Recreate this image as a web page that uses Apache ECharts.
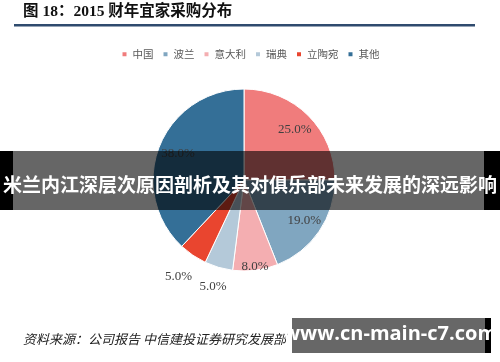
<!DOCTYPE html>
<html><head><meta charset="utf-8">
<script src="https://cdn.jsdelivr.net/npm/echarts@6/dist/echarts.min.js"></script>
<style>html,body{margin:0;padding:0;background:#fff}#c{width:500px;height:362px}</style>
</head><body><div id="c"></div>
<script>
const categories = ['中国', '波兰', '意大利', '瑞典', '立陶宛', '其他'];
const values = [25, 19, 8, 5, 5, 38];
const titleText = '图 18：2015 财年宜家采购分布';
const sourceText = '资料来源：公司报告 中信建投证券研究发展部';
const bannerText = '米兰内江深层次原因剖析及其对俱乐部未来发展的深远影响';
const watermarkText = 'www.cn-main-c7.com';

const colors = ['#f07c7c', '#80a6c0', '#f4aeb1', '#b4c9d9', '#e9452f', '#346f97'];
const labelRadiusFactor = [0.74, 0.75, 0.9, 1.14, 1.2, 0.73];
const CX = 244, CY = 180, R = 91;

const chart = echarts.init(document.getElementById('c'), null, {renderer: 'canvas'});
chart.setOption({
  animation: false,
  color: colors,
  legend: {
    top: 44, left: 'center',
    itemWidth: 6, itemHeight: 6, itemGap: 8,
    icon: 'rect',
    textStyle: {fontSize: 10.5, color: '#595959', fontFamily: 'Noto Sans CJK SC'},
    data: categories
  },
  series: [{
    type: 'pie',
    center: [CX, CY],
    radius: R,
    startAngle: 90,
    clockwise: true,
    itemStyle: {borderColor: '#fff', borderWidth: 1},
    label: {
      position: 'inside',
      formatter: p => p.value.toFixed(1) + '%',
      fontFamily: 'Liberation Serif',
      fontSize: 13,
      color: '#404040'
    },
    labelLine: {show: false},
    labelLayout: function (params) {
      const r = params.labelRect;
      const lx = r.x + r.width / 2, ly = r.y + r.height / 2;
      const k = labelRadiusFactor[params.dataIndex] / 0.5;
      return {x: CX + (lx - CX) * k, y: CY + (ly - CY) * k, align: 'center', verticalAlign: 'middle'};
    },
    data: categories.map((c, i) => ({name: c, value: values[i]}))
  }],
  graphic: [
    {type: 'text', left: 23, top: 4, style: {text: titleText, fontSize: 15.5, fontWeight: 'bold', fill: '#111', fontFamily: '"Liberation Serif", "Noto Sans CJK SC"'}},
    {type: 'rect', shape: {x: 14, y: 24, width: 461, height: 2.5}, style: {fill: '#2f4b6e'}},
    {type: 'text', left: 23, top: 333, style: {text: sourceText, fontSize: 13, fontStyle: 'italic', fill: '#222', fontFamily: 'Noto Sans CJK SC'}},
    {type: 'rect', z: 100, shape: {x: 0, y: 151, width: 500, height: 59}, style: {fill: 'rgba(0,0,0,0.6)'}},
    {type: 'rect', z: 100, shape: {x: 0, y: 151, width: 13, height: 59}, style: {fill: '#000'}},
    {type: 'rect', z: 100, shape: {x: 484, y: 151, width: 16, height: 59}, style: {fill: '#000'}},
    {type: 'text', z: 101, x: 250, y: 185, style: {text: bannerText, fontSize: 19, fontWeight: 'bold', fill: '#fff', align: 'center', verticalAlign: 'middle', fontFamily: 'Noto Sans CJK SC'}},
    {type: 'rect', z: 100, shape: {x: 292, y: 318, width: 193, height: 35}, style: {fill: 'rgba(90,90,90,0.92)'}},
    {type: 'rect', z: 100, shape: {x: 485, y: 318, width: 6, height: 35}, style: {fill: '#000'}},
    {type: 'text', z: 101, x: 390, y: 334, style: {text: watermarkText, fontSize: 20, fontWeight: 'bold', fill: '#fff', align: 'center', verticalAlign: 'middle', fontFamily: 'Open Sans'}}
  ]
});
</script></body></html>
